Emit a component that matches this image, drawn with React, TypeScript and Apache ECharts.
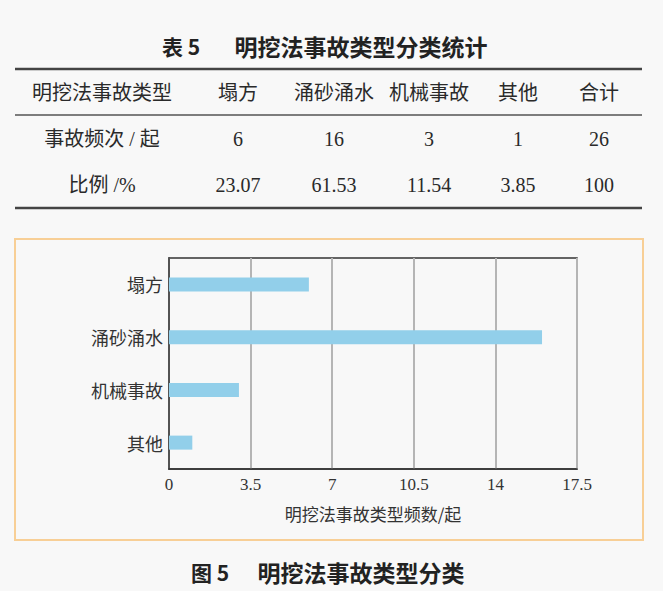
import React, { useEffect, useRef } from "react";
import * as echarts from "echarts";

const categories = ["塌方", "涌砂涌水", "机械事故", "其他"];
const frequency = [6, 16, 3, 1];
const tableHeader = ["明挖法事故类型", "塌方", "涌砂涌水", "机械事故", "其他", "合计"];
const rowFrequency = ["事故频次 / 起", "6", "16", "3", "1", "26"];
const rowRatio = ["比例 /%", "23.07", "61.53", "11.54", "3.85", "100"];
const xTicks = [0, 3.5, 7, 10.5, 14, 17.5];
const tableTitle = ["表 5", "明挖法事故类型分类统计"];
const figureTitle = ["图 5", "明挖法事故类型分类"];
const xAxisName = "明挖法事故类型频数/起";

const colX = [102, 238, 334, 429, 518, 599];
const rowY = [93, 139, 185];
const SERIF = '"Liberation Serif", "Noto Sans CJK SC", serif';
const CJK = '"Noto Sans CJK SC", sans-serif';

export default function App() {
  const ref = useRef<HTMLDivElement>(null);
  useEffect(() => {
    if (!ref.current) return;
    const chart = echarts.init(ref.current, null, { renderer: "svg" });
    const rows = [tableHeader, rowFrequency, rowRatio];
    const tableTexts: any[] = [];
    rows.forEach((row, ri) => {
      row.forEach((cell, ci) => {
        tableTexts.push({
          type: "text",
          x: colX[ci],
          y: rowY[ri],
          style: {
            text: cell,
            align: "center",
            verticalAlign: "middle",
            fontSize: 20,
            fontFamily: SERIF,
            fill: "#2a2a2a",
          },
        });
      });
    });
    const graphic: any[] = [
      { type: "text", x: 181, y: 46, style: { text: tableTitle[0], align: "center", verticalAlign: "middle", fontSize: 21, fontWeight: "bold", fontFamily: CJK, fill: "#222" } },
      { type: "text", x: 361, y: 46, style: { text: tableTitle[1], align: "center", verticalAlign: "middle", fontSize: 23, fontWeight: "bold", fontFamily: CJK, fill: "#222" } },
      { type: "line", shape: { x1: 15, y1: 69, x2: 642, y2: 69 }, style: { stroke: "#444", lineWidth: 2.5 } },
      { type: "line", shape: { x1: 15, y1: 115, x2: 642, y2: 115 }, style: { stroke: "#555", lineWidth: 1.5 } },
      { type: "line", shape: { x1: 15, y1: 208, x2: 642, y2: 208 }, style: { stroke: "#444", lineWidth: 2.5 } },
      ...tableTexts,
      { type: "rect", shape: { x: 15, y: 239, width: 628, height: 301 }, style: { fill: "none", stroke: "#f8cf96", lineWidth: 2 } },
      { type: "text", x: 210, y: 572, style: { text: figureTitle[0], align: "center", verticalAlign: "middle", fontSize: 21, fontWeight: "bold", fontFamily: CJK, fill: "#222" } },
      { type: "text", x: 361, y: 572, style: { text: figureTitle[1], align: "center", verticalAlign: "middle", fontSize: 23, fontWeight: "bold", fontFamily: CJK, fill: "#222" } },
    ];
    chart.setOption({
      animation: false,
      backgroundColor: "#f8f8f8",
      graphic,
      grid: {
        left: 169,
        top: 258,
        width: 408,
        height: 211,
        show: true,
        borderColor: "#333",
        borderWidth: 1.5,
        backgroundColor: "transparent",
      },
      xAxis: {
        type: "value",
        min: 0,
        max: 17.5,
        interval: 3.5,
        name: xAxisName,
        nameLocation: "middle",
        nameGap: 36,
        nameTextStyle: { fontSize: 17, fontFamily: CJK, color: "#333" },
        axisLine: { show: true, lineStyle: { color: "#333", width: 1.5 } },
        axisTick: { show: false },
        axisLabel: {
          margin: 7,
          fontSize: 17,
          fontFamily: SERIF,
          color: "#333",
          formatter: (v: number) => (xTicks.includes(v) ? String(v) : ""),
        },
        splitLine: { show: true, lineStyle: { color: "#b5b5b5", width: 2 } },
      },
      yAxis: {
        type: "category",
        data: categories,
        inverse: true,
        axisLine: { show: true, lineStyle: { color: "#333", width: 1.5 } },
        axisTick: { show: false },
        axisLabel: { margin: 6, fontSize: 18, fontFamily: CJK, color: "#333" },
        splitLine: { show: false },
      },
      series: [
        {
          type: "bar",
          data: frequency,
          barWidth: 14,
          itemStyle: { color: "#92cfea" },
        },
      ],
    });
    return () => chart.dispose();
  }, []);
  return (
    <div
      ref={ref}
      style={{ position: "fixed", left: 0, top: 0, width: 663, height: 591 }}
    />
  );
}
